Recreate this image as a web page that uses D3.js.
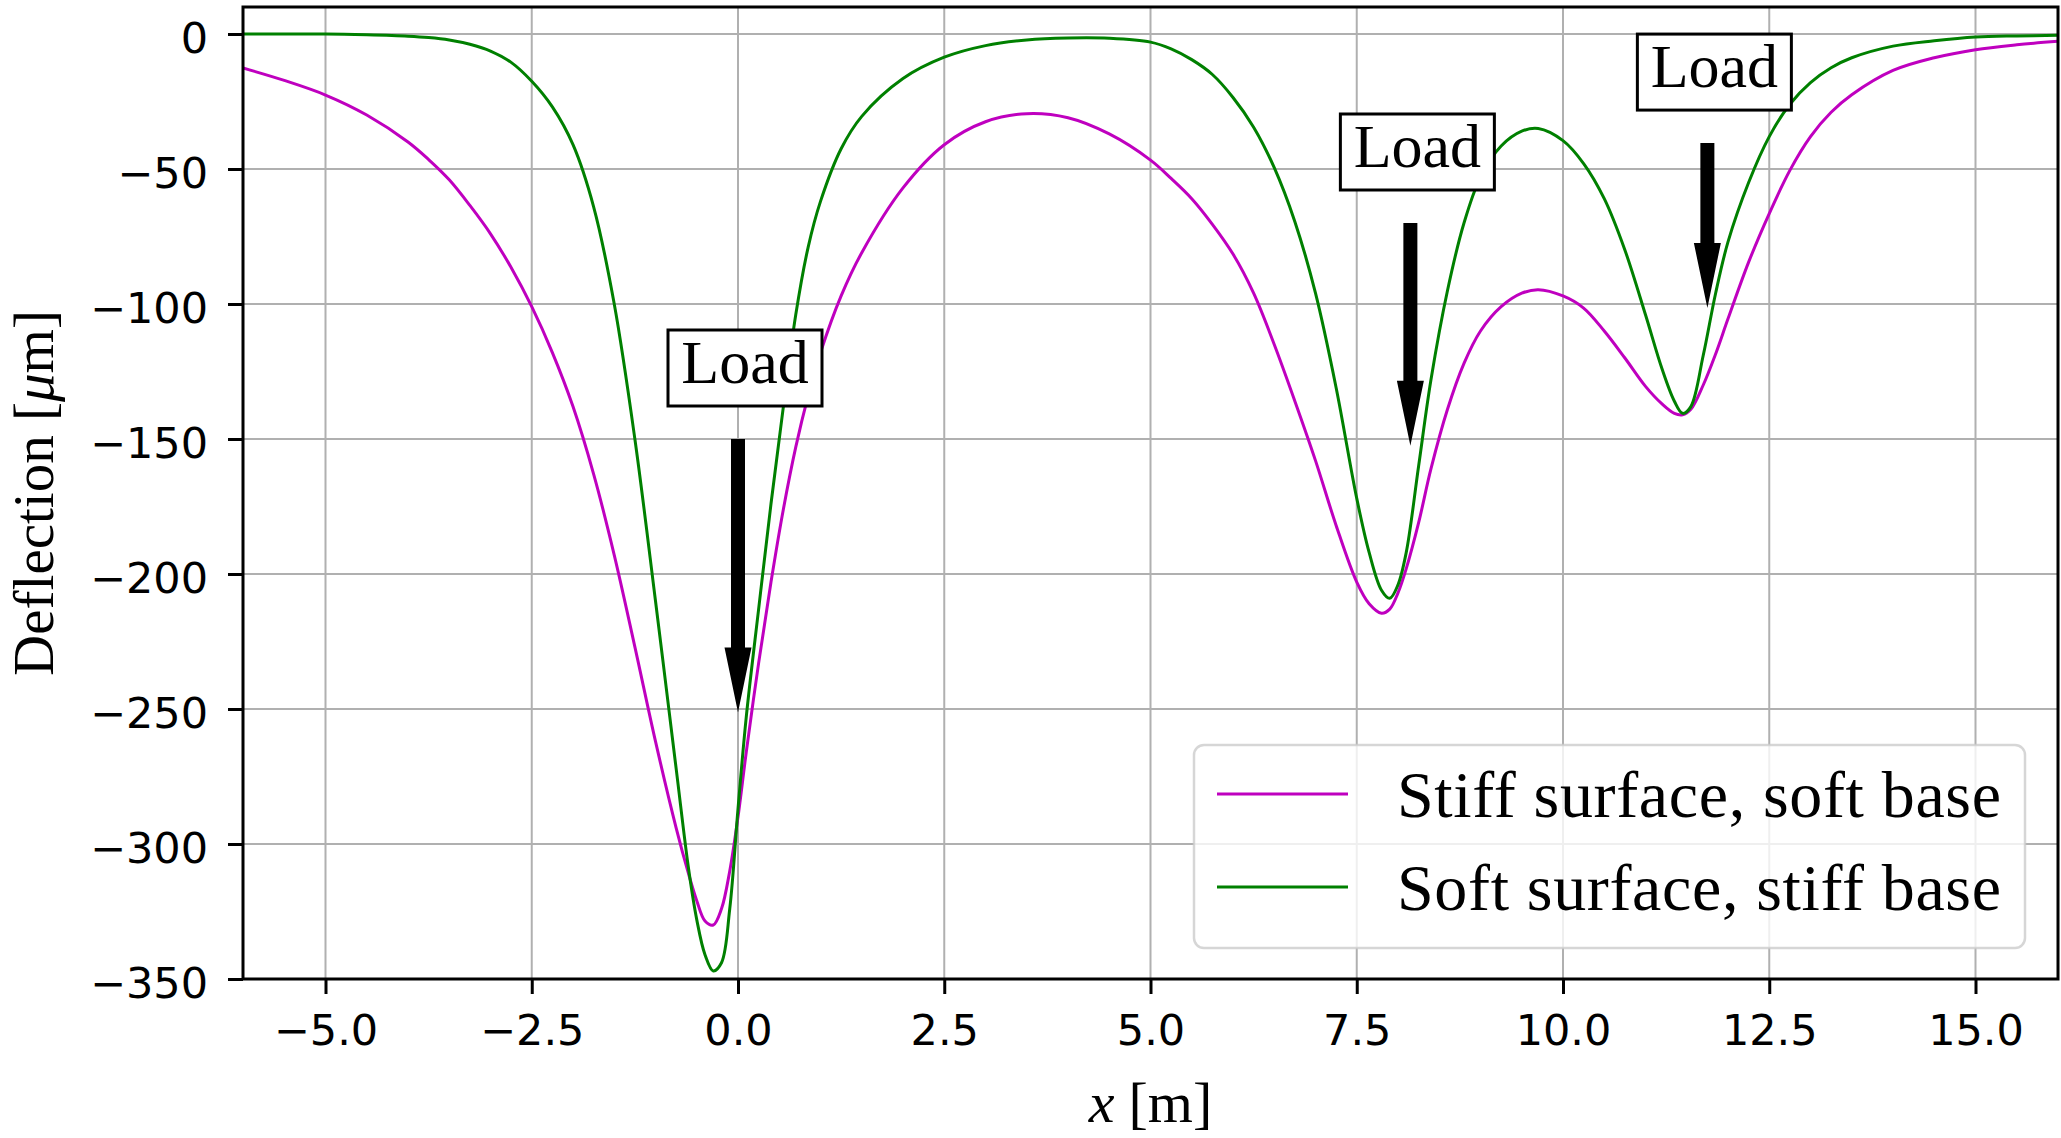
<!DOCTYPE html>
<html>
<head>
<meta charset="utf-8">
<script src="https://cdn.jsdelivr.net/npm/d3@7"></script>
<style>
  html, body { margin: 0; padding: 0; background: #ffffff; }
  svg { display: block; }
</style>
</head>
<body>
<svg id="chart" width="2061" height="1138"></svg>
<script>
// ---------------- data ----------------
const xs = [-6, -5.5, -5, -4.5, -4, -3.75, -3.5, -3.25, -3, -2.75, -2.5, -2.25, -2, -1.75, -1.5, -1.25, -1, -0.75, -0.6, -0.5, -0.4, -0.3, -0.2, -0.1, 0, 0.1, 0.25, 0.4, 0.55, 0.7, 0.85, 1, 1.25, 1.5, 2, 2.5, 3, 3.5, 4, 4.5, 5, 5.25, 5.5, 5.75, 6, 6.25, 6.5, 6.75, 7, 7.25, 7.5, 7.65, 7.8, 7.9, 8, 8.1, 8.25, 8.4, 8.6, 8.8, 9, 9.25, 9.5, 9.7, 10, 10.25, 10.5, 10.75, 11, 11.2, 11.35, 11.45, 11.55, 11.7, 11.85, 12, 12.25, 12.5, 12.75, 13, 13.25, 13.5, 14, 14.5, 15, 15.5, 16];

const stiffSurfaceSoftBase = [-12.6, -17.2, -22.6, -30, -40, -46.5, -54, -63.5, -74, -86.5, -101, -118, -138, -163, -193, -227, -262, -294, -311, -321, -328.5, -330, -324, -310, -290, -266, -233, -203, -176, -153, -134, -118, -97, -81, -57, -41, -32.5, -29.5, -31, -37, -46.7, -53.5, -61, -70.5, -81.5, -96, -115, -136, -158, -182, -203, -211, -214.5, -213, -207, -198, -181, -161, -139, -122, -110, -101, -96, -94.7, -97, -101.5, -110, -120, -130.5, -137, -140.5, -141, -139, -130, -118.5, -105.5, -84.5, -66.5, -50.5, -38, -29, -22.5, -13.5, -8.8, -5.8, -4, -2.7];

const softSurfaceStiffBase = [0, 0, 0, -0.3, -0.8, -1.3, -2.2, -3.8, -6.3, -10.5, -17.5, -27, -41, -64, -100, -150, -210, -272, -309, -328, -341, -347, -344, -324, -287, -253, -213, -174, -138, -104, -79, -62, -42.5, -30.5, -16.5, -8.6, -4.3, -2.2, -1.5, -1.6, -3, -5.5, -9.5, -15, -23.5, -34.5, -49.5, -69.5, -96, -131, -172, -192, -206, -209, -204, -192, -160, -128, -95, -70, -53, -41.5, -36, -35, -39.5, -48, -61, -80, -104, -124, -136, -140.5, -138, -119, -96, -77, -55, -38, -26, -18, -12.5, -8.8, -4.5, -2.5, -1.1, -0.7, -0.5];

const seriesNames = ["Stiff surface, soft base", "Soft surface, stiff base"];
const seriesColors = ["#bf00bf", "#008000"];

const xTicks = [-5, -2.5, 0, 2.5, 5, 7.5, 10, 12.5, 15];
const yTicks = [0, -50, -100, -150, -200, -250, -300, -350];

const loadX = [0, 8.15, 11.75];
const loadTail = [-150, -70, -40.4];
const loadTip = [-251.3, -152.5, -101.5];
const loadLabel = "Load";

// ---------------- layout ----------------
const W = 2061, H = 1138;
const L = 243, R = 2058, T = 7, B = 979;

const svg = d3.select("#chart");
svg.append("rect").attr("width", W).attr("height", H).attr("fill", "#ffffff");

const x = d3.scaleLinear().domain([-6, 16]).range([L, R]);
const y = d3.scaleLinear().domain([-350, 10]).range([B, T]);

const fmtMinus = s => s.replace("-", "\u2212");

// grid
const grid = svg.append("g");
grid.selectAll("line.gx").data(xTicks).join("line")
  .attr("x1", d => x(d)).attr("x2", d => x(d))
  .attr("y1", T).attr("y2", B)
  .attr("stroke", "#b0b0b0").attr("stroke-width", 2);
grid.selectAll("line.gy").data(yTicks).join("line")
  .attr("x1", L).attr("x2", R)
  .attr("y1", d => y(d)).attr("y2", d => y(d))
  .attr("stroke", "#b0b0b0").attr("stroke-width", 2);

// clip
svg.append("clipPath").attr("id", "plotclip")
  .append("rect").attr("x", L).attr("y", T).attr("width", R - L).attr("height", B - T);

const line = d3.line()
  .x(d => x(d[0])).y(d => y(d[1]))
  .curve(d3.curveCatmullRom.alpha(0.5));

const series = [stiffSurfaceSoftBase, softSurfaceStiffBase];
const curves = svg.append("g").attr("clip-path", "url(#plotclip)");
series.forEach((vals, i) => {
  curves.append("path")
    .datum(xs.map((xv, j) => [xv, vals[j]]))
    .attr("d", line)
    .attr("fill", "none")
    .attr("stroke", seriesColors[i])
    .attr("stroke-width", 3)
    .attr("stroke-linejoin", "round");
});

// axes
const xAxis = d3.axisBottom(x).tickValues(xTicks).tickSize(15).tickPadding(20)
  .tickFormat(d => fmtMinus(d3.format(".1f")(d)));
const yAxis = d3.axisLeft(y).tickValues(yTicks).tickSize(15).tickPadding(20)
  .tickFormat(d => fmtMinus(d3.format("d")(d)));

const gx = svg.append("g").attr("transform", `translate(0,${B})`).call(xAxis);
const gy = svg.append("g").attr("transform", `translate(${L},0)`).call(yAxis);
[gx, gy].forEach(g => {
  g.select(".domain").remove();
  g.selectAll(".tick line").attr("stroke", "#000").attr("stroke-width", 3);
  g.selectAll(".tick text")
    .attr("fill", "#000")
    .style("font-family", "'DejaVu Sans', sans-serif")
    .style("font-size", "43px");
});
gy.selectAll(".tick text").attr("dy", "0.42em");

// spines
svg.append("rect")
  .attr("x", L).attr("y", T).attr("width", R - L).attr("height", B - T)
  .attr("fill", "none").attr("stroke", "#000").attr("stroke-width", 3);

// load annotations
const ann = svg.append("g");
loadX.forEach((lx, i) => {
  const px = x(lx);
  const yTail = y(loadTail[i]);
  const yTip = y(loadTip[i]);
  const headLen = 65, shaftW = 14, headW = 27;
  const yHead = yTip - headLen;
  const pts = [
    [px - shaftW / 2, yTail], [px + shaftW / 2, yTail],
    [px + shaftW / 2, yHead], [px + headW / 2, yHead],
    [px, yTip],
    [px - headW / 2, yHead], [px - shaftW / 2, yHead]
  ];
  ann.append("path")
    .attr("d", "M" + pts.map(p => p.join(",")).join("L") + "Z")
    .attr("fill", "#000");

  const bw = 154, bh = 76;
  const bcx = px + 7;
  const bBottom = yTail - 33;
  ann.append("rect")
    .attr("x", bcx - bw / 2).attr("y", bBottom - bh)
    .attr("width", bw).attr("height", bh)
    .attr("fill", "#fff").attr("stroke", "#000").attr("stroke-width", 3);
  ann.append("text")
    .attr("x", bcx).attr("y", bBottom - 23)
    .attr("text-anchor", "middle")
    .style("font-family", "'Liberation Serif', serif")
    .style("font-size", "62px")
    .text(loadLabel);
});

// legend
const leg = svg.append("g");
leg.append("rect")
  .attr("x", 1194).attr("y", 745).attr("width", 831).attr("height", 203)
  .attr("rx", 10).attr("ry", 10)
  .attr("fill", "#ffffff").attr("fill-opacity", 0.8)
  .attr("stroke", "#cccccc").attr("stroke-opacity", 0.8).attr("stroke-width", 2.5);
seriesNames.forEach((name, i) => {
  const ly = 794 + i * 93;
  leg.append("line")
    .attr("x1", 1217).attr("x2", 1348).attr("y1", ly).attr("y2", ly)
    .attr("stroke", seriesColors[i]).attr("stroke-width", 3);
  leg.append("text")
    .attr("x", 1397).attr("y", ly + 23)
    .attr("textLength", 604).attr("lengthAdjust", "spacing")
    .style("font-family", "'Liberation Serif', serif")
    .style("font-size", "66px")
    .text(name);
});

// axis labels
const xl = svg.append("text")
  .attr("x", (L + R) / 2).attr("y", 1122)
  .attr("text-anchor", "middle")
  .style("font-family", "'Liberation Serif', serif")
  .style("font-size", "58px");
xl.append("tspan").style("font-style", "italic").text("x");
xl.append("tspan").attr("dx", 14).text("[m]");

const yl = svg.append("text")
  .attr("transform", "translate(53,493) rotate(-90)")
  .attr("text-anchor", "middle")
  .style("font-family", "'Liberation Serif', serif")
  .style("font-size", "57px");
yl.append("tspan").text("Deflection [");
yl.append("tspan").style("font-style", "italic").text("\u03bc");
yl.append("tspan").text("m]");
</script>
</body>
</html>
